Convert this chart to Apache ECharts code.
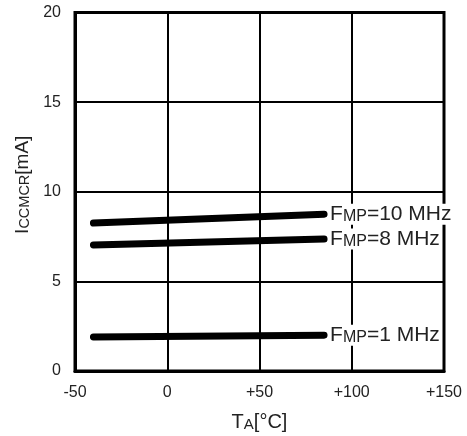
<!DOCTYPE html>
<html>
<head>
<meta charset="utf-8">
<script src="https://cdn.jsdelivr.net/npm/echarts@6/dist/echarts.min.js"></script>
<style>
  html, body { margin: 0; padding: 0; background: #fff; }
  #chart { width: 467px; height: 436px; }
</style>
</head>
<body>
<div id="chart"></div>
<script>
"use strict";

// temperatura (°C) nos extremos de cada curva
const temps = [-40, 85];
// corrente ICCMCR [mA] por frequência
const f10 = [8.25, 8.75];
const f8 = [7.03, 7.36];
const f1 = [1.9, 2.0];
const freqs = ['10', '8', '1'];

const xTicks = { min: -50, max: 150, interval: 50 };
const yTicks = { min: 0, max: 20, interval: 5 };

const font = "'Liberation Sans', Arial, Helvetica, sans-serif";
const textColor = '#222';

// estilos rich para as letras pequenas (versalete)
function rich(grande, pequena) {
  return {
    a: { fontSize: grande, fontFamily: font, color: textColor, verticalAlign: 'bottom' },
    b: { fontSize: pequena, fontFamily: font, color: textColor, verticalAlign: 'bottom' }
  };
}

function serie(nome, valores) {
  return {
    name: nome,
    type: 'line',
    data: temps.map((t, i) => [t, valores[i]]),
    symbol: 'none',
    lineStyle: { color: '#000', width: 7, cap: 'round' },
    endLabel: {
      show: true,
      distance: 6,
      formatter: '{a|F}{b|MP}{a|=' + nome + ' MHz}',
      backgroundColor: '#fff',
      rich: rich(21, 16)
    },
    z: 3
  };
}

var elem = document.getElementById('chart');
var chart = echarts.init(elem);
chart.setOption({
  animation: false,
  grid: {
    left: 75,
    right: 23,
    top: 12.5,
    bottom: 65,
    containLabel: false,
    outerBoundsMode: 'none',
    show: true,
    borderColor: '#000',
    borderWidth: 3
  },
  xAxis: {
    type: 'value',
    min: xTicks.min,
    max: xTicks.max,
    interval: xTicks.interval,
    name: '{a|T}{b|A}{a|[°C]}',
    nameLocation: 'middle',
    nameGap: 41,
    nameTextStyle: { rich: rich(20, 15) },
    axisLine: { show: true, onZero: false, lineStyle: { color: '#000', width: 3 } },
    axisTick: { show: false },
    splitLine: { show: true, lineStyle: { color: '#000', width: 2 } },
    axisLabel: {
      margin: 14,
      fontSize: 16,
      fontFamily: font,
      color: textColor,
      formatter: function (v) { return v > 0 ? '+' + v : String(v); }
    }
  },
  yAxis: {
    type: 'value',
    min: yTicks.min,
    max: yTicks.max,
    interval: yTicks.interval,
    name: '{a|I}{b|CCMCR}{a|[mA]}',
    nameLocation: 'middle',
    nameGap: 40,
    nameTextStyle: { padding: [0, 0, 0, 14], rich: rich(19, 14.5) },
    axisLine: { show: true, onZero: false, lineStyle: { color: '#000', width: 3 } },
    axisTick: { show: false },
    splitLine: { show: true, lineStyle: { color: '#000', width: 2 } },
    axisLabel: {
      margin: 14,
      fontSize: 16,
      fontFamily: font,
      color: textColor
    }
  },
  series: [
    serie(freqs[0], f10),
    serie(freqs[1], f8),
    serie(freqs[2], f1)
  ]
});
</script>
</body>
</html>
